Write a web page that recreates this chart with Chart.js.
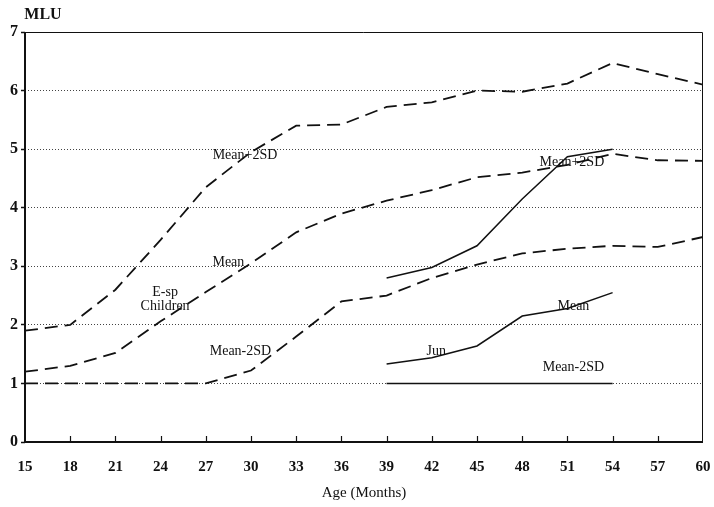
<!DOCTYPE html>
<html lang="en">
<head>
<meta charset="UTF-8">
<title>MLU by age</title>
<style>
html, body { margin: 0; padding: 0; background: #fff; }
#wrap { width: 714px; height: 507px; }
</style>
</head>
<body>
<div id="wrap"><canvas id="myChart" width="714" height="507"></canvas></div>

<script src="https://cdn.jsdelivr.net/npm/chart.js"></script>
<script>
// data
const months = [15, 18, 21, 24, 27, 30, 33, 36, 39, 42, 45, 48, 51, 54, 57, 60];
const espPlus2SD = [1.9, 2.0, 2.6, 3.45, 4.35, 4.95, 5.4, 5.42, 5.72, 5.8, 6.0, 5.98, 6.12, 6.47, 6.28, 6.1];
const espMean = [1.2, 1.3, 1.52, 2.06, 2.56, 3.05, 3.58, 3.9, 4.12, 4.3, 4.52, 4.6, 4.73, 4.92, 4.81, 4.8];
const espMinus2SD = [1.0, 1.0, 1.0, 1.0, 1.0, 1.22, 1.8, 2.4, 2.5, 2.8, 3.03, 3.22, 3.3, 3.35, 3.33, 3.5];

const junMonths = [39, 42, 45, 48, 51, 54];
const junPlus2SD = [2.8, 2.98, 3.35, 4.15, 4.87, 5.0];
const junMean = [1.33, 1.44, 1.64, 2.15, 2.28, 2.55];
const junMinus2SD = [1.0, 1.0, 1.0, 1.0, 1.0, 1.0];

// text labels placed in data units
const notes = [
    { text: 'Mean+2SD', x: 29.6, y: 4.9 },
    { text: 'Mean', x: 28.5, y: 3.07 },
    { text: 'E-sp', x: 24.3, y: 2.55 },
    { text: 'Children', x: 24.3, y: 2.31 },
    { text: 'Mean-2SD', x: 29.3, y: 1.54 },
    { text: 'Mean+2SD', x: 51.3, y: 4.77 },
    { text: 'Mean', x: 51.4, y: 2.31 },
    { text: 'Jun', x: 42.3, y: 1.54 },
    { text: 'Mean-2SD', x: 51.4, y: 1.28 }
];

function pts(xs, ys) {
    return xs.map(function (x, i) { return { x: x, y: ys[i] }; });
}

const serif = '"Liberation Serif", "DejaVu Serif", serif';

function dashed(data) {
    return {
        data: data,
        borderColor: '#111',
        borderWidth: 1.8,
        borderDash: [13, 7],
        pointRadius: 0,
        tension: 0,
        fill: false
    };
}
function solid(data) {
    return {
        data: data,
        borderColor: '#111',
        borderWidth: 1.5,
        pointRadius: 0,
        tension: 0,
        fill: false
    };
}

const decor = {
    id: 'decor',
    afterDatasetsDraw(chart) {
        const c = chart.ctx;
        const a = chart.chartArea;
        const xs = chart.scales.x;
        const ys = chart.scales.y;
        c.save();
        // frame
        c.strokeStyle = '#111';
        c.lineWidth = 1;
        c.beginPath();
        c.moveTo(a.left, a.top + 0.5);
        c.lineTo(a.right - 0.5, a.top + 0.5);
        c.lineTo(a.right - 0.5, a.bottom);
        c.stroke();
        c.lineWidth = 2;
        c.beginPath();
        c.moveTo(a.left, a.top);
        c.lineTo(a.left, a.bottom);
        c.lineTo(a.right, a.bottom);
        c.stroke();
        // inward x ticks
        c.lineWidth = 1.2;
        xs.ticks.forEach(function (t) {
            if (t.value <= 15 || t.value >= 60) return;
            const px = Math.round(xs.getPixelForValue(t.value)) + 0.5;
            c.beginPath();
            c.moveTo(px, a.bottom);
            c.lineTo(px, a.bottom - 6);
            c.stroke();
        });
        // notes
        c.fillStyle = '#111';
        c.font = '14px ' + serif;
        c.textAlign = 'center';
        c.textBaseline = 'middle';
        notes.forEach(function (n) {
            c.fillText(n.text, xs.getPixelForValue(n.x), ys.getPixelForValue(n.y));
        });
        // axis titles
        c.font = 'bold 16px ' + serif;
        c.fillText('MLU', 43, 15);
        c.font = '15px ' + serif;
        c.fillText('Age (Months)', (a.left + a.right) / 2, 493);
        c.restore();
    }
};

const ctx = document.getElementById('myChart');

let chart = new Chart(ctx, {
    type: 'line',
    data: {
        datasets: [
            dashed(pts(months, espPlus2SD)),
            dashed(pts(months, espMean)),
            dashed(pts(months, espMinus2SD)),
            solid(pts(junMonths, junPlus2SD)),
            solid(pts(junMonths, junMean)),
            solid(pts(junMonths, junMinus2SD))
        ]
    },
    options: {
        responsive: false,
        animation: false,
        layout: { padding: { left: 0, right: 11, top: 32, bottom: 0 } },
        plugins: {
            legend: { display: false },
            tooltip: { enabled: false }
        },
        scales: {
            x: {
                type: 'linear',
                min: 15,
                max: 60,
                afterFit(s) { s.height = 65; s.paddingLeft = 0; s.paddingRight = 0; },
                ticks: {
                    stepSize: 3,
                    color: '#111',
                    padding: 8,
                    maxRotation: 0,
                    font: { family: serif, size: 15, weight: 'bold' }
                },
                grid: { display: false },
                border: { display: false }
            },
            y: {
                min: 0,
                max: 7,
                afterFit(s) { s.width = 25; s.paddingTop = 0; s.paddingBottom = 0; },
                ticks: {
                    stepSize: 1,
                    color: '#111',
                    padding: 3,
                    font: { family: serif, size: 16, weight: 'bold' }
                },
                grid: {
                    color: function (c) {
                        return (c.tick.value === 0 || c.tick.value === 7) ? 'rgba(0,0,0,0)' : '#444';
                    },
                    lineWidth: 1,
                    tickLength: 4,
                    tickColor: '#111',
                    tickBorderDash: [],
                    tickWidth: 1.5
                },
                border: { display: false, dash: [1, 2] }
            }
        }
    },
    plugins: [decor]
});
</script>
</body>
</html>
